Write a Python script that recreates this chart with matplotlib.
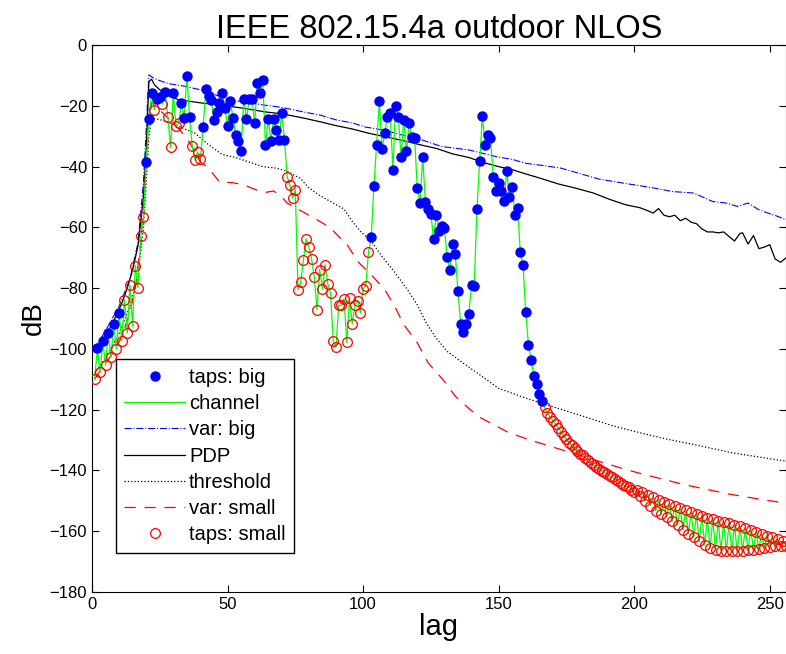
import numpy as np
import matplotlib
matplotlib.use("Agg")
import matplotlib.pyplot as plt

plt.rcParams['font.family'] = ['Liberation Sans', 'DejaVu Sans']

# channel taps, lag 1..256 (dB)
lags = list(range(1, 257))
channel = [
    -110.0, -99.7, -107.7, -97.5, -105.4, -94.8, -102.8, -91.7, -100.0, -88.2,
    -97.3, -83.8, -94.8, -78.9, -92.6, -72.6, -79.8, -63.0, -56.7, -38.6,
    -24.4, -15.8, -21.3, -17.8, -17.1, -19.4, -15.3, -23.7, -33.7, -15.8,
    -26.6, -25.7, -19.0, -24.0, -10.1, -23.7, -33.2, -37.8, -35.2, -37.5,
    -27.0, -14.5, -16.7, -18.0, -24.6, -21.9, -19.1, -15.6, -20.8, -26.6,
    -18.3, -24.0, -29.5, -31.7, -35.0, -17.8, -24.4, -17.8, -17.7, -25.5,
    -12.5, -15.6, -11.4, -32.8, -24.4, -31.5, -24.4, -27.9, -31.2, -22.2,
    -31.2, -43.3, -46.0, -50.4, -47.6, -80.5, -78.1, -70.7, -63.8, -66.3,
    -70.4, -76.3, -87.1, -73.9, -80.3, -72.3, -78.6, -81.6, -97.5, -99.5,
    -85.7, -85.7, -83.5, -97.9, -83.3, -91.8, -85.5, -84.1, -88.2, -80.2,
    -79.4, -68.1, -63.3, -46.3, -32.8, -18.4, -34.2, -28.8, -23.5, -22.2,
    -41.0, -20.0, -23.5, -36.7, -24.6, -35.0, -25.7, -30.3, -30.6, -46.9,
    -52.0, -36.9, -51.8, -54.0, -55.5, -63.8, -55.9, -61.1, -59.5, -60.2,
    -69.6, -74.0, -65.4, -68.7, -81.0, -91.8, -94.6, -91.8, -88.4, -78.9,
    -79.4, -54.0, -38.3, -23.3, -32.8, -29.5, -30.6, -43.3, -47.9, -45.4,
    -47.9, -51.2, -41.6, -50.0, -46.7, -55.9, -53.5, -68.2, -72.3, -87.9,
    -98.6, -103.6, -108.8, -111.5, -114.8, -117.0, -119.2, -121.1, -122.4, -123.6,
    -124.6, -126.0, -127.3, -128.6, -129.7, -130.9, -131.8, -132.7, -133.7, -134.5,
    -135.1, -135.9, -136.7, -137.6, -138.2, -138.8, -139.4, -140.1, -140.7, -141.3,
    -141.8, -142.3, -142.8, -143.4, -144.2, -144.8, -145.3, -145.6, -146.3, -147.0,
    -146.6, -148.4, -147.2, -150.2, -148.0, -151.6, -148.7, -153.3, -149.6, -154.4,
    -150.3, -155.5, -151.0, -156.8, -151.7, -158.0, -152.5, -159.5, -153.1, -160.8,
    -153.7, -162.0, -154.4, -163.4, -155.0, -164.6, -155.6, -165.6, -156.1, -166.1,
    -156.6, -166.4, -157.0, -166.6, -157.4, -166.6, -158.0, -166.7, -158.4, -166.5,
    -159.0, -166.3, -159.6, -166.1, -160.2, -165.8, -160.9, -165.5, -161.5, -165.2,
    -162.1, -165.0, -162.6, -164.9, -163.2, -164.8,
]
big_lags = ([2, 4, 6, 8, 10, 20, 21, 22, 24, 25, 27, 30, 33, 34, 35, 36]
            + list(range(41, 72)) + list(range(103, 167)))

# PDP
pdp_lag = [1, 3, 5, 7, 9, 11, 13, 15, 17, 19, 20, 21, 22, 23, 25, 28, 32, 40, 48,
           56, 64, 70, 78, 84, 90, 96, 102, 110, 116, 121, 127, 133, 139, 145, 150,
           155, 160, 166, 172, 178, 185, 191, 197, 202, 205, 207, 209, 211, 213,
           215, 217, 219, 221, 223, 225, 227, 229, 231, 233, 235, 237, 239, 240,
           242, 244, 246, 248, 250, 252, 254, 256]
pdp_db = [-101, -98.5, -95.5, -92.5, -89, -85, -80, -74, -66, -50, -35, -12, -11.2,
          -13, -14.7, -16.5, -18, -19, -19.8, -20.8, -22, -22.6, -24, -25.2, -26.5,
          -27.6, -29, -30.5, -31.7, -32.8, -34, -35.8, -37, -38.8, -40, -41, -42.4,
          -44, -45.7, -47, -48.7, -50.8, -52.6, -53.5, -54.5, -55.3, -53.8, -56,
          -56.5, -56, -57.8, -57, -58.3, -58.8, -60.5, -61.5, -61.5, -61.8, -61.5,
          -63, -64.5, -62, -61.8, -65.5, -62.7, -67, -66.5, -65.7, -70.4, -71.5, -70]

# var: big
vbig_lag = [1, 5, 10, 14, 17, 19, 20, 21, 23, 26, 29, 34, 40, 46, 51, 58, 64, 70,
            78, 84, 90, 96, 101, 108, 114, 121, 129, 139, 145, 150, 155, 160, 166,
            173, 180, 187, 193, 200, 207, 214, 222, 229, 234, 238, 242, 246, 250,
            253, 256]
vbig_db = [-100, -94, -86, -77, -65, -45, -28, -9.8, -11, -12, -12.8, -13.5, -14.7,
           -16.5, -18, -19, -19.8, -20.5, -22, -23, -24.6, -25.6, -27, -28, -29.5,
           -31, -33.4, -34.5, -35.8, -36.9, -37.6, -38.9, -39.6, -40.5, -42.3, -44.1,
           -45, -46, -47, -48.2, -48.7, -51.5, -52, -53.1, -52, -54.2, -55.5, -56.4,
           -57.5]

# threshold
thr_lag = [1, 5, 10, 14, 17, 19, 21, 22, 25, 30, 34, 38, 43, 48, 53, 58, 63, 68, 72,
           77, 80, 84, 88, 93, 96, 99, 103, 107, 111, 116, 120, 123, 127, 131, 136,
           143, 150, 160, 172, 183, 192, 203, 212, 222, 236, 246, 256]
thr_db = [-108, -103, -95, -86, -76, -60, -30, -24, -24.5, -26, -27.5, -29, -32.8,
          -36, -37, -38.5, -40, -40.5, -41.5, -44, -47, -49.5, -51.5, -54, -58,
          -61.3, -64.5, -69.6, -74, -80, -85.5, -91, -96.5, -100.8, -104.1, -108.5,
          -113, -116.2, -119.6, -122.7, -125.3, -127.8, -129.7, -131.5, -134.2,
          -135.6, -137]

# var: small
vsmall_lag = [1, 4, 8, 11, 14, 16, 18, 20, 21, 22, 24, 28, 32, 36, 40, 43, 47, 52,
              56, 61, 64, 67, 70, 72, 76, 80, 84, 88, 91, 94, 98, 103, 108, 112, 115,
              120, 124, 130, 134, 139, 143, 147, 154, 163, 171, 179, 187, 195, 203,
              211, 219, 227, 235, 243, 250, 256]
vsmall_db = [-110, -106, -101, -96, -88, -80, -65, -40, -25, -19, -20.5, -24, -27.5,
             -32, -38.5, -40.5, -45, -45.3, -46, -47.8, -48.5, -48, -50, -52, -54,
             -56, -58, -60.2, -63, -65.5, -71.2, -75.6, -80.5, -86.6, -92, -98,
             -104.6, -110.7, -115.6, -119.6, -122.5, -124.4, -127.7, -130.4, -132.6,
             -134.8, -137, -139.2, -141.2, -143, -144.8, -146.3, -147.8, -149, -150,
             -150.8]

x = np.array(lags)
y = np.array(channel)
is_big = np.isin(x, big_lags)

fig = plt.figure(figsize=(7.86, 6.54), dpi=100)
ax = fig.add_axes([0.117, 0.095, 0.883, 0.836])

h_big, = ax.plot(x[is_big], y[is_big], 'o', color='blue', markersize=6.5,
                 markeredgecolor='blue', label='taps: big', zorder=5)
h_ch, = ax.plot(x, y, '-', color=(0, 1, 0), lw=0.9, label='channel', zorder=3)
h_vb, = ax.plot(vbig_lag, vbig_db, '-.', color='blue', lw=0.8, label='var: big', zorder=2)
h_pdp, = ax.plot(pdp_lag, pdp_db, '-', color='black', lw=0.9, label='PDP', zorder=2)
h_thr, = ax.plot(thr_lag, thr_db, ':', color='black', lw=0.9, label='threshold', zorder=2)
h_vs, = ax.plot(vsmall_lag, vsmall_db, '--', color='red', lw=0.9,
                dashes=(9, 7), label='var: small', zorder=2)
h_sm, = ax.plot(x[~is_big], y[~is_big], 'o', markerfacecolor='none',
                markeredgecolor='red', markersize=7, mew=0.9,
                label='taps: small', zorder=4)

ax.set_xlim(0, 256)
ax.set_ylim(-180, 0)
ax.set_xticks([0, 50, 100, 150, 200, 250])
ax.set_yticks(np.arange(-180, 1, 20))
ax.tick_params(direction='in', top=True, right=True, labelsize=12, length=5)
ax.set_xlabel('lag', fontsize=21, labelpad=1)
ax.set_ylabel('dB', fontsize=20, labelpad=2)
ax.set_title('IEEE 802.15.4a outdoor NLOS', fontsize=23.5, pad=5)

leg = ax.legend(handles=[h_big, h_ch, h_vb, h_pdp, h_thr, h_vs, h_sm],
                loc='lower left', bbox_to_anchor=(0.0346, 0.0713), borderaxespad=0,
                fontsize=14.5, fancybox=False, edgecolor='black', framealpha=1,
                handlelength=3.0, handletextpad=0.2, labelspacing=0.36,
                borderpad=0.42, numpoints=1)
leg.get_frame().set_linewidth(1.0)

fig.savefig('out.png', dpi=100)
